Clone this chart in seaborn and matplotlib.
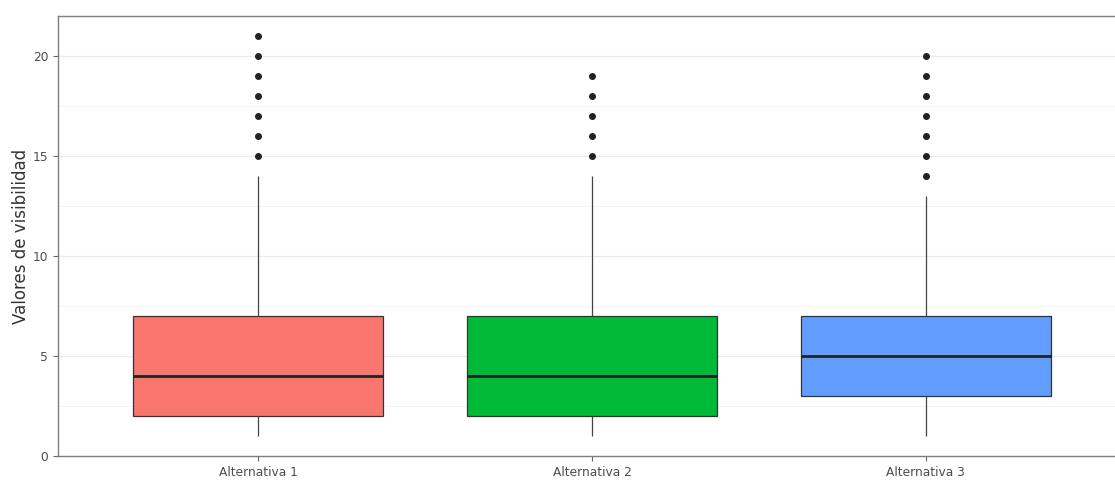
import numpy as np
import pandas as pd
import seaborn as sns
import matplotlib.pyplot as plt
from matplotlib.ticker import MultipleLocator

# Visibility scores observed for each alternative (value -> frequency)
scores = list(range(1, 22))
counts_alt1 = [15, 15, 15, 12, 10, 8, 8, 4, 3, 2, 2, 1, 1, 1, 1, 1, 1, 1, 1, 1, 1]
counts_alt2 = [15, 15, 15, 12, 10, 8, 8, 4, 3, 2, 2, 1, 1, 1, 1, 1, 1, 1, 1, 0, 0]
counts_alt3 = [8, 12, 15, 14, 14, 12, 10, 5, 4, 3, 2, 1, 1, 1, 1, 1, 1, 1, 1, 1, 0]

categories = ["Alternativa 1", "Alternativa 2", "Alternativa 3"]
fills = ["#F8766D", "#00BA38", "#619CFF"]

frames = []
for name, cnt in zip(categories, [counts_alt1, counts_alt2, counts_alt3]):
    frames.append(pd.DataFrame({"alternativa": name,
                                "valor": np.repeat(scores, cnt)}))
df = pd.concat(frames, ignore_index=True)

sns.set_theme(style="white")
plt.rcParams['font.family'] = ['DejaVu Sans']

fig = plt.figure(figsize=(11.15, 4.83), dpi=100)
ax = fig.add_axes([58 / 1115, 27 / 483, 1068 / 1115, 440 / 483])

# light major/minor grid in the ggplot style
ax.set_axisbelow(True)
ax.yaxis.set_major_locator(MultipleLocator(5))
ax.yaxis.set_minor_locator(MultipleLocator(2.5))
ax.grid(which="major", axis="both", color="#ebebeb", linewidth=0.9)
ax.grid(which="minor", axis="y", color="#f4f4f4", linewidth=0.6)

sns.boxplot(data=df, x="alternativa", y="valor", hue="alternativa",
            order=categories, hue_order=categories, palette=fills,
            width=0.75, whis=1.5, saturation=1, legend=False, ax=ax,
            linecolor="#333333", linewidth=0.9,
            medianprops=dict(color="#222222", linewidth=2.0),
            whiskerprops=dict(color="#444444", linewidth=0.9),
            capprops=dict(linewidth=0),
            flierprops=dict(marker="o", markersize=4.0,
                            markerfacecolor="#222222",
                            markeredgecolor="#222222"))

ax.set_xlim(-0.6, 2.6)
ax.set_ylim(0, 22)
ax.set_xlabel("")
ax.set_ylabel("Valores de visibilidad", fontsize=12, color="#333333",
              labelpad=2)

for s in ax.spines.values():
    s.set_color("#7f7f7f")
    s.set_linewidth(1.0)

ax.tick_params(axis="both", which="major", length=3.5, width=0.8,
               color="#666666", labelcolor="#4d4d4d", labelsize=8.8,
               direction="out", bottom=True, left=True)
ax.tick_params(axis="y", which="minor", length=0)

fig.savefig("out.png", dpi=100)
